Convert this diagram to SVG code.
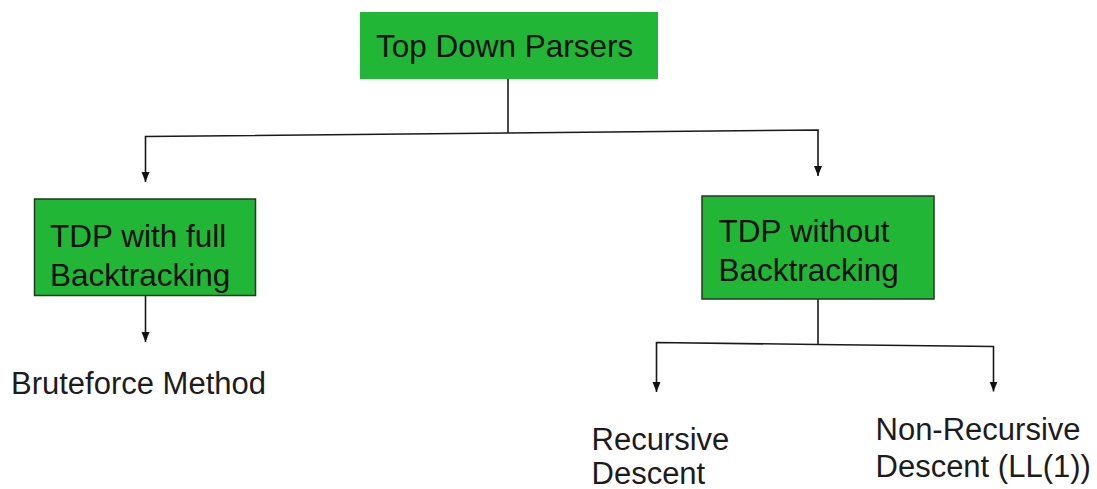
<svg xmlns="http://www.w3.org/2000/svg" width="1097" height="489" viewBox="0 0 1097 489">
  <style>
    .box { fill: #22b636; }
    .framed { stroke: #1f3a1f; stroke-width: 1.5; }
    .label { font-family: "Liberation Sans", Arial, sans-serif; font-size: 31.5px; fill: #111; }
    .leaf { font-family: "Liberation Sans", Arial, sans-serif; font-size: 31px; fill: #1c1c1c; }
    .wire { fill: none; stroke: #1a1a1a; stroke-width: 1.6; }
  </style>
  <defs>
    <marker id="arrow" markerUnits="userSpaceOnUse" markerWidth="12" markerHeight="12" viewBox="0 0 12 12" refX="10" refY="6" orient="auto">
      <path d="M0,2 L10,6 L0,10 Z" fill="#111"/>
    </marker>
  </defs>

  <rect width="1097" height="489" fill="#ffffff"/>

  <!-- connectors -->
  <g id="connectors">
    <!-- root to both branches -->
    <path class="wire" d="M508,79 L508,133"/>
    <path class="wire" d="M508,133 L145.5,136.5 L145.5,182" marker-end="url(#arrow)"/>
    <path class="wire" d="M508,133 L818,130 L818,176" marker-end="url(#arrow)"/>
    <!-- full backtracking to brute force -->
    <path class="wire" d="M145.5,296 L145.5,342" marker-end="url(#arrow)"/>
    <!-- without backtracking to its two methods -->
    <path class="wire" d="M818,299 L818,344.5"/>
    <path class="wire" d="M818,344.5 L656.5,342.5 L656.5,392" marker-end="url(#arrow)"/>
    <path class="wire" d="M818,344.5 L993.5,346.5 L993.5,391.5" marker-end="url(#arrow)"/>
  </g>

  <g id="node-root">
    <rect class="box" x="360" y="12" width="298" height="67"/>
    <text class="label" x="376" y="57">Top Down Parsers</text>
  </g>

  <g id="node-full-backtracking">
    <rect class="box framed" x="34.5" y="199" width="221" height="96.5"/>
    <text class="label" x="50" y="247">TDP with full</text>
    <text class="label" x="50" y="286">Backtracking</text>
  </g>

  <g id="node-no-backtracking">
    <rect class="box framed" x="702" y="196" width="232" height="103"/>
    <text class="label" x="718.5" y="242">TDP without</text>
    <text class="label" x="718.5" y="281">Backtracking</text>
  </g>

  <g id="node-bruteforce">
    <text class="leaf" x="11" y="394">Bruteforce Method</text>
  </g>

  <g id="node-recursive">
    <text class="leaf" x="591.5" y="450">Recursive</text>
    <text class="leaf" x="591.5" y="484">Descent</text>
  </g>

  <g id="node-non-recursive">
    <text class="leaf" x="875.5" y="440">Non-Recursive</text>
    <text class="leaf" x="875.5" y="477">Descent (LL(1))</text>
  </g>
</svg>
